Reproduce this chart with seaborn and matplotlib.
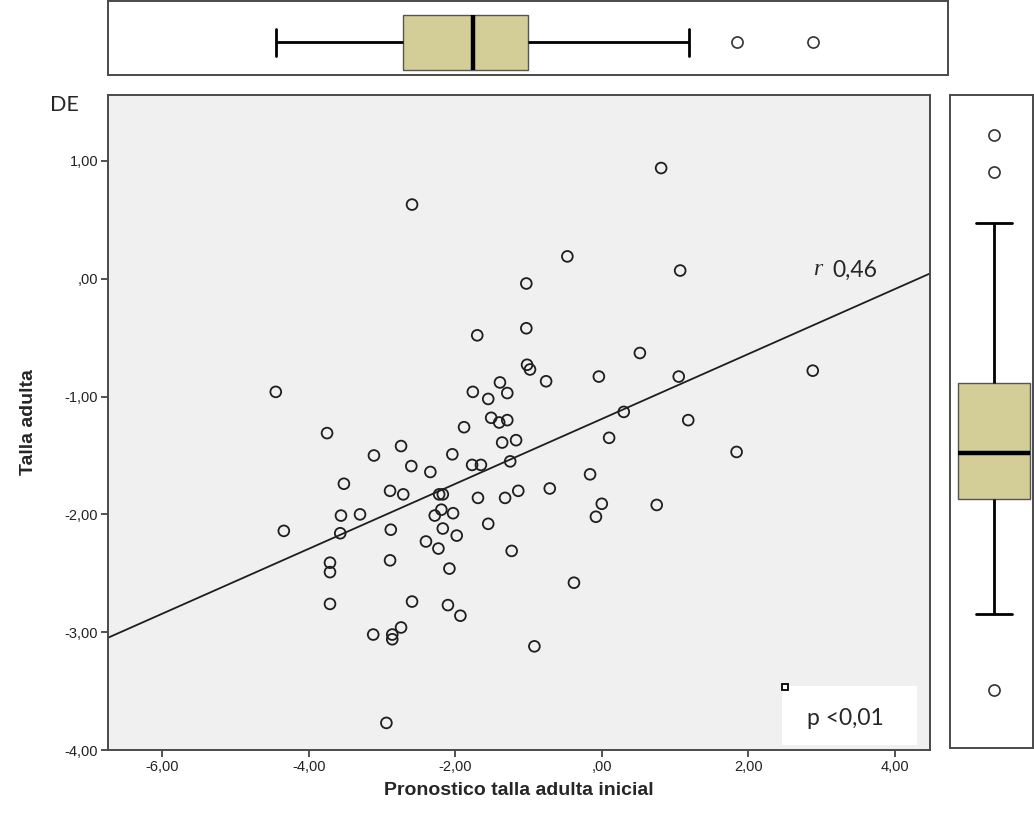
import numpy as np
import pandas as pd
import matplotlib
matplotlib.use("Agg")
import matplotlib.pyplot as plt
from matplotlib.patches import Rectangle
import seaborn as sns

# ---- data ----
pronostico = [-4.45, -4.34, -2.59, -3.75, -3.71, -3.71, -3.71, -3.52, -3.11, -2.74,
              -2.60, -2.34, -2.04, -1.88, -1.76, -1.70, -1.55, -1.51, -1.39, -1.77,
              -1.65, -1.69, -2.89, -2.71, -2.22, -2.17, -2.19, -2.28, -2.03, -3.56,
              -3.30, -3.57, -2.88, -2.17, -1.98, -2.40, -2.23, -1.55, -2.89, -2.08,
              -2.59, -2.10, -1.93, -3.12, -2.86, -2.86, -2.74, -2.94, 0.81, -0.47,
              1.07, -1.03, -1.03, -1.02, -0.98, -0.76, -0.04, 0.52, 1.05, -1.29,
              -1.29, -1.40, -1.36, -1.17, -1.25, -1.32, -1.14, -0.71, -1.23, -0.92,
              -0.38, -0.16, 0.00, -0.08, 0.10, 0.30, 1.18, 0.75, 1.84, 2.88]
talla = [-0.96, -2.14, 0.63, -1.31, -2.41, -2.49, -2.76, -1.74, -1.50, -1.42,
         -1.59, -1.64, -1.49, -1.26, -0.96, -0.48, -1.02, -1.18, -0.88, -1.58,
         -1.58, -1.86, -1.80, -1.83, -1.83, -1.83, -1.96, -2.01, -1.99, -2.01,
         -2.00, -2.16, -2.13, -2.12, -2.18, -2.23, -2.29, -2.08, -2.39, -2.46,
         -2.74, -2.77, -2.86, -3.02, -3.02, -3.06, -2.96, -3.77, 0.94, 0.19,
         0.07, -0.04, -0.42, -0.73, -0.77, -0.87, -0.83, -0.63, -0.83, -0.97,
         -1.20, -1.22, -1.39, -1.37, -1.55, -1.86, -1.80, -1.78, -2.31, -3.12,
         -2.58, -1.66, -1.91, -2.02, -1.35, -1.13, -1.20, -1.92, -1.47, -0.78]

x_ticks = [-6, -4, -2, 0, 2, 4]
x_tick_labels = ["-6,00", "-4,00", "-2,00", ",00", "2,00", "4,00"]
y_ticks = [1, 0, -1, -2, -3, -4]
y_tick_labels = ["1,00", ",00", "-1,00", "-2,00", "-3,00", "-4,00"]
x_label = "Pronostico talla adulta inicial"
y_label = "Talla adulta"
unit_label = "DE"
r_value = "0,46"
p_text = "p <0,01"

# ---- style ----
sns.set_theme(style="white")
plt.rcParams["font.family"] = ["Liberation Sans", "DejaVu Sans"]

df = pd.DataFrame({"pronostico": pronostico, "talla": talla})

W, H = 1034, 834
fig = plt.figure(figsize=(W / 100, H / 100), dpi=100)


def rect(l, t, r, b):
    return [l / W, 1 - b / H, (r - l) / W, (b - t) / H]


ax = fig.add_axes(rect(108, 95, 930, 750))
axt = fig.add_axes(rect(108, 1, 948, 75))
axr = fig.add_axes(rect(950, 95, 1033, 748))

box_color = "#d3ce98"
frame_color = "#4a4a4a"
calibri_like = ["Lato", "DejaVu Sans"]

# ---- main scatter with regression line ----
ax.set_facecolor("#f0f0f0")
ax.set_xlim(-6.74, 4.48)
ax.set_ylim(-4.0, 1.56)
sns.regplot(data=df, x="pronostico", y="talla", ax=ax, ci=None, truncate=False,
            scatter_kws=dict(s=60, facecolors="none", edgecolors="#1e1e1e",
                             linewidths=1.3, alpha=1),
            line_kws=dict(color="#1e1e1e", lw=1.3))
ax.set_xlim(-6.74, 4.48)
ax.set_ylim(-4.0, 1.56)
ax.set_xticks(x_ticks)
ax.set_xticklabels(x_tick_labels)
ax.set_yticks(y_ticks)
ax.set_yticklabels(y_tick_labels)
ax.tick_params(axis="both", direction="out", length=5, width=1.2, color="#333333",
               labelsize=10.5, labelcolor="#222222", bottom=True, left=True, pad=2)
ax.set_xlabel(x_label, fontsize=14, fontweight="bold", labelpad=6)
ax.set_ylabel(y_label, fontsize=14, fontweight="bold", labelpad=20)
for s in ax.spines.values():
    s.set_color(frame_color)
    s.set_linewidth(1.4)

# annotations
fig.text(50 / W, 1 - 105 / H, unit_label, fontsize=15.5, family=calibri_like,
         va="center", ha="left")
ax.text(0.858, 0.733, "r", transform=ax.transAxes, fontsize=17, style="italic",
        family=["Liberation Serif", "DejaVu Serif"], va="center", ha="left")
ax.text(0.881, 0.733, r_value, transform=ax.transAxes, fontsize=16.5,
        family=calibri_like, va="center", ha="left")
ax.add_patch(Rectangle((0.820, 0.008), 0.164, 0.090, transform=ax.transAxes,
                       facecolor="white", edgecolor="none", zorder=3))
ax.text(0.897, 0.048, p_text, transform=ax.transAxes, fontsize=16.5,
        family=calibri_like, va="center", ha="center", zorder=4)
ax.plot([0.8235], [0.0955], transform=ax.transAxes, marker="s", ms=5,
        mfc="white", mec="black", mew=1.3, zorder=5, clip_on=False)

# ---- top marginal boxplot ----
flier = dict(marker="o", markerfacecolor="none", markeredgecolor="#333333",
             markersize=8, markeredgewidth=1.2)
sns.boxplot(x=df["pronostico"], ax=axt, orient="h", width=0.75, color=box_color,
            saturation=1, linecolor="black", linewidth=2, flierprops=flier,
            boxprops=dict(edgecolor="#555555", linewidth=1),
            medianprops=dict(color="black", linewidth=3.2))
axt.set_xlim(-6.74, -6.74 + 840 / 73.3)
axt.set_ylim(0.44, -0.56)
axt.set_xticks([])
axt.set_yticks([])
axt.set_xlabel("")
axt.set_ylabel("")
for s in axt.spines.values():
    s.set_color(frame_color)
    s.set_linewidth(1.4)

# ---- right marginal boxplot ----
sns.boxplot(y=df["talla"], ax=axr, orient="v", width=0.87, color=box_color,
            saturation=1, linecolor="black", linewidth=2, flierprops=flier,
            boxprops=dict(edgecolor="#555555", linewidth=1),
            medianprops=dict(color="black", linewidth=3.2))
axr.set_ylim(-4.26, 1.28)
axr.set_xlim(-0.53, 0.47)
axr.set_xticks([])
axr.set_yticks([])
axr.set_xlabel("")
axr.set_ylabel("")
for s in axr.spines.values():
    s.set_color(frame_color)
    s.set_linewidth(1.4)

fig.savefig("out.png", dpi=100, facecolor="white")
